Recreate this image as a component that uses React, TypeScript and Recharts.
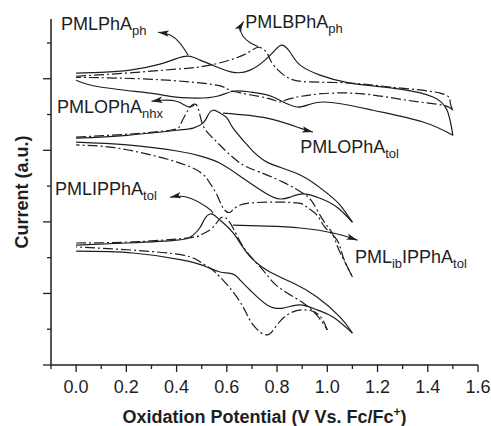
import { LineChart, Line, XAxis, YAxis, ReferenceDot } from "recharts";

type Pt = [number, number];

// tick values
const xTicks = [-0.1, 0, 0.1, 0.2, 0.3, 0.4, 0.5, 0.6, 0.7, 0.8, 0.9, 1.0, 1.1, 1.2, 1.3, 1.4, 1.5, 1.6];
const yTicks = [0, 1, 2, 3, 4, 5, 6, 7, 8, 9];

// top pair (scanned to 1.5 V)
const phSolidFwd: Pt[] = [
  [0, 8.16], [0.1, 8.18], [0.215, 8.24], [0.334, 8.41], [0.394, 8.55], [0.446, 8.63],
  [0.494, 8.52], [0.553, 8.35], [0.625, 8.18], [0.693, 8.24], [0.752, 8.52], [0.792, 8.8],
  [0.82, 8.94], [0.852, 8.74], [0.892, 8.38], [0.971, 8.1], [1.091, 7.88], [1.29, 7.71],
  [1.421, 7.49], [1.477, 7.12], [1.5, 6.42],
];
const phSolidRev: Pt[] = [
  [1.5, 6.42], [1.381, 6.79], [1.182, 7.12], [0.983, 7.35], [0.88, 7.21], [0.784, 7.49],
  [0.693, 7.63], [0.625, 7.65], [0.561, 7.51], [0.474, 7.46], [0.374, 7.51], [0.295, 7.6],
  [0.096, 7.77], [0, 7.96],
];
const bphDashFwd: Pt[] = [
  [0, 8.07], [0.203, 8.16], [0.402, 8.27], [0.533, 8.38], [0.665, 8.66], [0.724, 8.88],
  [0.76, 8.72], [0.78, 8.44], [0.84, 8.04], [0.931, 7.91], [1.091, 7.88], [1.25, 7.77],
  [1.449, 7.6], [1.489, 7.35], [1.5, 7.12],
];
const bphDashRev: Pt[] = [
  [1.5, 7.12], [1.461, 7.26], [1.317, 7.4], [1.091, 7.6], [0.88, 7.49], [0.812, 7.35],
  [0.76, 7.46], [0.625, 7.65], [0.561, 7.82], [0.362, 7.96], [0.163, 8.02], [0, 8.04],
];

// middle pair (scanned to 1.1 V)
const tolSolidFwd: Pt[] = [
  [0, 6.34], [0.203, 6.42], [0.402, 6.56], [0.466, 6.62], [0.505, 6.76], [0.525, 6.98],
  [0.545, 7.12], [0.573, 7.04], [0.601, 6.9], [0.625, 6.62], [0.681, 6.15], [0.76, 5.67],
  [0.892, 5.31], [0.999, 4.8], [1.051, 4.47], [1.1, 3.99],
];
const tolSolidRev: Pt[] = [
  [1.1, 3.99], [1.039, 4.41], [0.971, 4.66], [0.903, 4.78], [0.852, 4.69], [0.812, 4.64],
  [0.76, 4.78], [0.665, 5.22], [0.573, 5.64], [0.494, 5.84], [0.402, 5.98], [0.203, 6.15],
  [0, 6.23],
];
const nhxDashFwd: Pt[] = [
  [0, 6.37], [0.203, 6.45], [0.374, 6.56], [0.414, 6.7], [0.434, 6.98], [0.454, 7.21],
  [0.47, 7.29], [0.486, 7.18], [0.505, 6.7], [0.545, 6.34], [0.601, 5.95], [0.665, 5.59],
  [0.732, 5.39], [0.824, 5.11], [0.903, 4.8], [0.943, 4.53], [0.983, 4.05], [1.019, 3.69],
  [1.043, 3.27], [1.07, 2.88], [1.1, 2.46],
];
const nhxDashRev: Pt[] = [
  [1.1, 2.46], [1.063, 3.02], [1.039, 3.49], [0.991, 3.85], [0.959, 4.19], [0.919, 4.41],
  [0.88, 4.53], [0.76, 4.55], [0.653, 4.47], [0.613, 4.27], [0.585, 4.39], [0.561, 4.75],
  [0.533, 5.08], [0.494, 5.39], [0.402, 5.67], [0.267, 5.92], [0.135, 6.09], [0, 6.15],
];

// bottom pair
const ippSolidFwd: Pt[] = [
  [0, 3.35], [0.203, 3.41], [0.402, 3.49], [0.466, 3.63], [0.494, 3.85], [0.513, 4.1],
  [0.533, 4.22], [0.549, 4.19], [0.573, 4.05], [0.625, 3.69], [0.681, 3.13], [0.76, 2.65],
  [0.864, 2.29], [0.959, 1.9], [1.051, 1.34], [1.1, 0.89],
];
const ippSolidRev: Pt[] = [
  [1.1, 0.89], [1.023, 1.34], [0.959, 1.54], [0.892, 1.68], [0.824, 1.59], [0.76, 1.68],
  [0.693, 2.09], [0.653, 2.37], [0.625, 2.54], [0.573, 2.6], [0.521, 2.74], [0.426, 2.93],
  [0.227, 3.13], [0, 3.18],
];
const ibDashFwd: Pt[] = [
  [0, 3.41], [0.227, 3.44], [0.442, 3.55], [0.494, 3.63], [0.533, 3.77], [0.561, 3.99],
  [0.581, 4.13], [0.605, 4.05], [0.633, 3.72], [0.661, 3.35], [0.7, 2.99], [0.744, 2.65],
  [0.792, 2.26], [0.852, 1.96], [0.911, 1.7], [0.951, 1.45], [0.983, 1.17], [1.0, 0.98],
];
const ibDashRev: Pt[] = [
  [1.0, 0.98], [0.971, 1.37], [0.919, 1.54], [0.852, 1.45], [0.8, 1.12], [0.76, 0.84],
  [0.712, 1.06], [0.685, 1.34], [0.665, 1.62], [0.625, 2.04], [0.573, 2.46], [0.533, 2.71],
  [0.494, 2.88], [0.426, 3.07], [0.227, 3.21], [0, 3.3],
];

// annotation arrows, drawn from the curve to the label
const arrowPh: Pt[] = [[0.446, 8.66], [0.414, 8.99], [0.374, 9.22], [0.326, 9.3]];
const arrowBph: Pt[] = [[0.724, 8.9], [0.69, 9.02], [0.663, 9.2], [0.655, 9.42], [0.667, 9.6]];
const arrowNhx: Pt[] = [[0.47, 7.26], [0.445, 7.22], [0.4, 7.37], [0.34, 7.4], [0.3, 7.37]];
const arrowTol: Pt[] = [[0.585, 7.04], [0.76, 6.9], [0.892, 6.62], [0.943, 6.51]];
const arrowIpp: Pt[] = [[0.545, 4.25], [0.521, 4.41], [0.442, 4.69], [0.374, 4.69]];
const arrowIb: Pt[] = [[0.625, 3.91], [0.76, 3.88], [0.892, 3.83], [1.023, 3.69], [1.12, 3.49]];

type Part = [string, boolean];
const labels: { x: number; y: number; parts: Part[] }[] = [
  { x: -0.06, y: 9.36, parts: [["PMLPhA", false], ["ph", true]] },
  { x: 0.673, y: 9.41, parts: [["PMLBPhA", false], ["ph", true]] },
  { x: -0.076, y: 7.04, parts: [["PMLOPhA", false], ["nhx", true]] },
  { x: 0.892, y: 5.92, parts: [["PMLOPhA", false], ["tol", true]] },
  { x: -0.084, y: 4.75, parts: [["PMLIPPhA", false], ["tol", true]] },
  { x: 1.11, y: 2.85, parts: [["PML", false], ["ib", true], ["IPPhA", false], ["tol", true]] },
];

const FONT = "'Liberation Sans', Arial, sans-serif";
const INK = "#1e1e1e";
const DASH = "10 3 2 3";

const curves = [
  { id: "phF", pts: phSolidFwd, dash: false },
  { id: "phR", pts: phSolidRev, dash: false },
  { id: "bphF", pts: bphDashFwd, dash: true },
  { id: "bphR", pts: bphDashRev, dash: true },
  { id: "tolF", pts: tolSolidFwd, dash: false },
  { id: "tolR", pts: tolSolidRev, dash: false },
  { id: "nhxF", pts: nhxDashFwd, dash: true },
  { id: "nhxR", pts: nhxDashRev, dash: true },
  { id: "ippF", pts: ippSolidFwd, dash: false },
  { id: "ippR", pts: ippSolidRev, dash: false },
  { id: "ibF", pts: ibDashFwd, dash: true },
  { id: "ibR", pts: ibDashRev, dash: true },
];
const arrows = [arrowPh, arrowBph, arrowNhx, arrowTol, arrowIpp, arrowIb];

const rows = (pts: Pt[]) => pts.map(([x, y]) => ({ x, y }));

function XTick({ x, y, payload }: any) {
  const v = payload.value as number;
  const major = Math.round(v * 10) % 2 === 0;
  return (
    <g>
      <line x1={x} y1={y} x2={x} y2={y + (major ? 7 : 4)} stroke={INK} strokeWidth={1.3} />
      {major && (
        <text x={x} y={y + 28} textAnchor="middle" fontSize={18} fontFamily={FONT} fill={INK}>
          {v.toFixed(1)}
        </text>
      )}
    </g>
  );
}

function YTick({ x, y, payload }: any) {
  const major = Math.round(payload.value) % 2 === 0;
  return <line x1={x - (major ? 8 : 4)} y1={y} x2={x} y2={y} stroke={INK} strokeWidth={1.3} />;
}

function XTitle({ viewBox }: any) {
  const cx = viewBox.x + viewBox.width / 2;
  return (
    <text x={cx} y={viewBox.y + 58} textAnchor="middle" fontSize={18} fontWeight="bold" fontFamily={FONT} fill={INK}>
      Oxidation Potential (V Vs. Fc/Fc
      <tspan fontSize={12} dy={-7}>+</tspan>
      <tspan dy={7}>)</tspan>
    </text>
  );
}

function YTitle({ viewBox }: any) {
  const cy = viewBox.y + viewBox.height / 2;
  return (
    <text
      transform={`translate(28, ${cy}) rotate(-90)`}
      textAnchor="middle"
      fontSize={18}
      fontWeight="bold"
      fontFamily={FONT}
      fill={INK}
    >
      Current (a.u.)
    </text>
  );
}

function CurveLabel({ cx, cy, parts }: { cx: number; cy: number; parts: Part[] }) {
  let prevSub = false;
  return (
    <text x={cx} y={cy} fontFamily={FONT} fill={INK} fontSize={18}>
      {parts.map(([t, sub], i) => {
        const dy = sub === prevSub ? 0 : sub ? 5 : -5;
        prevSub = sub;
        return (
          <tspan key={i} dy={dy} fontSize={sub ? 13 : 18}>
            {t}
          </tspan>
        );
      })}
    </text>
  );
}

export default function App() {
  return (
    <div style={{ position: "absolute", left: 0, top: 0 }}>
      <LineChart width={491} height={426} margin={{ top: 19, right: 13, bottom: 0, left: 0 }}>
        <defs>
          <marker id="arrowHead" markerUnits="userSpaceOnUse" markerWidth={12} markerHeight={8} refX={11} refY={4} orient="auto">
            <path d="M0,0.8 L11,4 L0,7.2 L2.5,4 z" fill={INK} />
          </marker>
        </defs>
        <XAxis
          type="number"
          dataKey="x"
          domain={[-0.1, 1.6]}
          ticks={xTicks}
          interval={0}
          allowDataOverflow
          height={61}
          tickSize={0}
          tickMargin={0}
          tickLine={false}
          tick={<XTick />}
          axisLine={{ stroke: INK, strokeWidth: 1.5 }}
          label={<XTitle />}
        />
        <YAxis
          type="number"
          domain={[0, 9.67]}
          ticks={yTicks}
          interval={0}
          allowDataOverflow
          width={51}
          tickSize={0}
          tickMargin={0}
          tickLine={false}
          tick={<YTick />}
          axisLine={{ stroke: INK, strokeWidth: 1.5 }}
          label={<YTitle />}
        />
        {curves.map((c) => (
          <Line
            key={c.id}
            data={rows(c.pts)}
            dataKey="y"
            type="natural"
            stroke={INK}
            strokeWidth={1.2}
            strokeDasharray={c.dash ? DASH : undefined}
            dot={false}
            activeDot={false}
            isAnimationActive={false}
          />
        ))}
        {arrows.map((a, i) => (
          <Line
            key={`arrow-${i}`}
            data={rows(a)}
            dataKey="y"
            type="natural"
            stroke={INK}
            strokeWidth={1.1}
            markerEnd="url(#arrowHead)"
            dot={false}
            activeDot={false}
            isAnimationActive={false}
          />
        ))}
        {labels.map((l, i) => (
          <ReferenceDot
            key={`label-${i}`}
            x={l.x}
            y={l.y}
            r={0}
            shape={(p: any) => <CurveLabel cx={p.cx} cy={p.cy} parts={l.parts} />}
          />
        ))}
      </LineChart>
    </div>
  );
}
